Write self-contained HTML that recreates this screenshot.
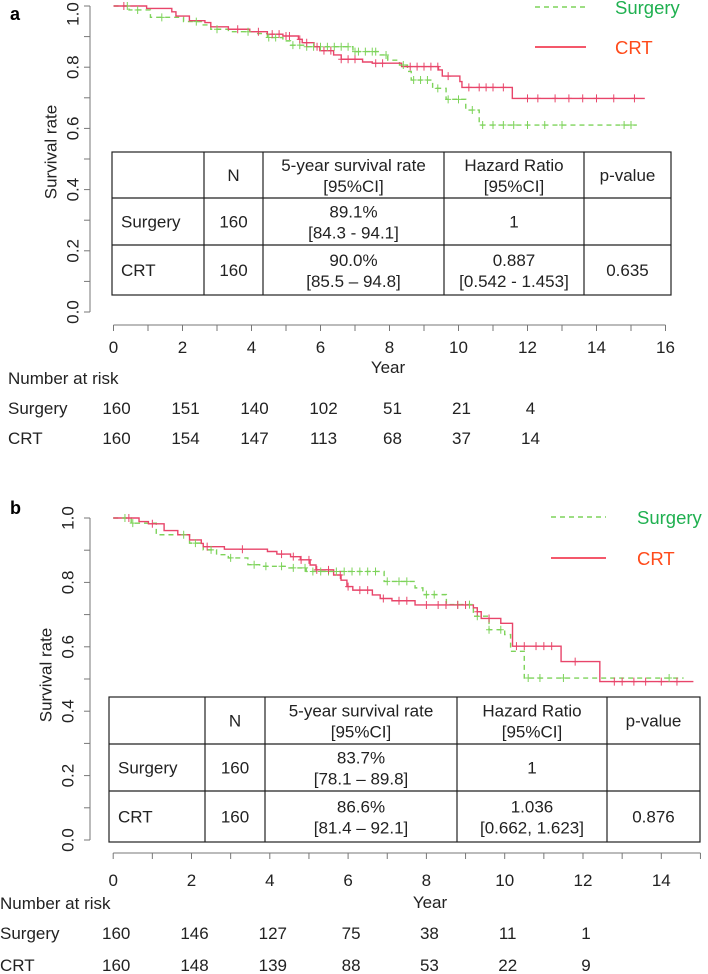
<!DOCTYPE html>
<html><head><meta charset="utf-8">
<style>
html,body{margin:0;padding:0;background:#fff;}
svg{display:block;font-family:"Liberation Sans",Arial,sans-serif;}
</style></head>
<body>
<svg id="fig" width="708" height="974" viewBox="0 0 708 974"></svg>
<script>
// ---------- Panel a data ----------
const aCrtTimes = [0,0.96,1.69,1.81,2.20,2.65,2.82,3.33,3.95,4.46,4.91,5.36,5.47,5.81,5.98,6.38,6.60,7.22,7.50,8.35,9.42,9.53,10.04,10.10,11.56];
const aCrtSurv  = [1,0.992,0.981,0.967,0.952,0.946,0.932,0.924,0.916,0.908,0.902,0.891,0.880,0.867,0.854,0.840,0.826,0.817,0.813,0.802,0.791,0.771,0.753,0.734,0.698];
const aCrtEnd = 15.4;
const aSurTimes = [0,0.45,1.07,2.03,2.60,2.82,3.33,4.12,4.46,4.91,5.13,5.58,6.94,7.73,7.95,8.29,8.52,8.63,9.25,9.64,10.21,10.60];
const aSurSurv  = [1,0.987,0.963,0.949,0.938,0.924,0.916,0.910,0.897,0.886,0.872,0.867,0.851,0.840,0.823,0.807,0.786,0.758,0.731,0.695,0.660,0.611];
const aSurEnd = 15.17;
const aCrtCensor = [0.3,3.6,4.2,4.6,4.8,5.0,5.1,5.4,5.6,5.9,6.1,6.3,6.6,6.8,7.0,7.6,7.8,8.6,8.8,9.0,9.2,9.4,9.7,10.3,10.6,10.8,11.0,11.3,12.0,12.3,12.8,13.2,13.6,14.0,14.5,15.1];
const aSurCensor = [0.4,0.7,1.4,2.4,3.0,3.9,4.5,4.7,5.2,5.4,5.6,5.8,6.0,6.2,6.4,6.6,6.8,7.0,7.1,7.3,7.5,7.6,7.9,8.4,8.7,8.9,9.1,9.4,9.7,10.0,10.4,10.7,11.0,11.3,11.6,12.0,12.5,13.0,14.8,15.0];
const aXTicks = [0,2,4,6,8,10,12,14,16];
const aRiskSur = [160,151,140,102,51,21,4];
const aRiskCrt = [160,154,147,113,68,37,14];
// ---------- Panel b data ----------
const bCrtTimes = [0,0.66,0.90,1.30,1.65,1.95,2.25,2.30,2.84,3.94,4.18,4.53,4.78,5.03,5.18,5.63,5.82,5.97,6.12,6.62,6.82,7.12,7.71,9.20,9.30,9.40,9.90,10.20,11.44,12.43];
const bCrtSurv  = [1,0.989,0.982,0.961,0.948,0.932,0.921,0.911,0.903,0.896,0.888,0.880,0.870,0.854,0.839,0.823,0.807,0.787,0.776,0.761,0.750,0.743,0.730,0.721,0.709,0.688,0.673,0.602,0.554,0.492];
const bCrtEnd = 14.82;
const bSurTimes = [0,0.46,1.10,1.95,2.30,2.64,2.94,3.44,3.74,4.43,4.93,6.92,7.71,7.91,8.51,9.20,9.60,10.00,10.15,10.50];
const bSurSurv  = [1,0.984,0.948,0.922,0.901,0.886,0.876,0.855,0.850,0.845,0.834,0.803,0.783,0.762,0.731,0.695,0.653,0.638,0.586,0.503];
const bSurEnd = 14.57;
const bCrtCensor = [0.4,1.0,2.4,3.3,4.3,4.6,4.8,5.0,5.2,5.5,5.8,6.0,6.3,6.5,6.9,7.3,7.5,8.0,8.3,8.5,8.8,9.0,9.3,9.6,10.3,10.5,10.8,11.0,11.2,11.8,12.8,13.0,13.3,13.6,14.0,14.4];
const bSurCensor = [0.3,0.5,1.8,2.1,2.5,3.0,3.6,3.9,4.3,4.6,4.9,5.1,5.3,5.5,5.7,5.9,6.1,6.3,6.5,6.7,7.0,7.3,7.5,8.0,8.2,8.8,9.1,9.3,9.6,9.9,10.6,10.9,11.5,14.2];
const bXTicks = [0,2,4,6,8,10,12,14];
const bRiskSur = [160,146,127,75,38,11,1];
const bRiskCrt = [160,148,139,88,53,22,9];
const yTicks = [0,0.2,0.4,0.6,0.8,1.0];

const NS = "http://www.w3.org/2000/svg";
const svg = document.getElementById('fig');
function el(tag, attrs, parent, text) {
  const e = document.createElementNS(NS, tag);
  for (const k in attrs) e.setAttribute(k, attrs[k]);
  if (text !== undefined) e.textContent = text;
  (parent || svg).appendChild(e);
  return e;
}
const RED = "#e8456a", GREEN = "#7dd35a";

function panel(P) {
  const g = el('g', {});
  
  
  const X = t => P.x0 + t * P.xs;
  const Y = s => P.y1 + (1 - s) * P.ys;
  const lt = el('text', {x: 10, y: P.letterY, 'font-size': 18, 'font-weight': 'bold'}, g, P.letter);
  
  
  const ya = el('g', {stroke: '#777', 'stroke-width': 1}, g);
  
  
  el('line', {x1: 90, y1: Y(1), x2: 90, y2: Y(0)}, ya);
  for (let i = 0; i <= 10; i++) el('line', {x1: 84, y1: Y(i / 10), x2: 90, y2: Y(i / 10)}, ya);
  yTicks.forEach(v => {
    const yy = Math.max(Y(v), 14);
    const t = el('text', {x: P.ylabX, y: yy, 'font-size': 17, fill: '#222', 'text-anchor': 'middle', transform: `rotate(-90 ${P.ylabX} ${yy})`, 'dominant-baseline': 'central'}, g, v.toFixed(1));
    
    
  });
  const yt = el('text', {x: P.ytitleX, y: P.ytitleY, 'font-size': 17, fill: '#222', 'text-anchor': 'middle', transform: `rotate(-90 ${P.ytitleX} ${P.ytitleY})`, 'dominant-baseline': 'central'}, g, 'Survival rate');
  
  
  const xa = el('g', {stroke: '#777', 'stroke-width': 1}, g);
  
  
  el('line', {x1: X(0), y1: P.xAxisY, x2: X(P.xMax), y2: P.xAxisY}, xa);
  for (let i = 0; i <= P.xMax; i++) el('line', {x1: X(i), y1: P.xAxisY, x2: X(i), y2: P.xAxisY + 6}, xa);
  P.xTicks.forEach(v => {
    const t = el('text', {x: X(v), y: P.xlabY, 'font-size': 17, fill: '#222', 'text-anchor': 'middle'}, g, String(v));
    
    
  });
  const xt = el('text', {x: P.yearX, y: P.yearY, 'font-size': 17, fill: '#222', 'text-anchor': 'middle'}, g, 'Year');
  
  
  function stepPath(ts, ss, end) {
    let d = `M${X(ts[0])},${Y(ss[0])}`;
    for (let i = 1; i < ts.length; i++) d += ` H${X(ts[i])} V${Y(ss[i])}`;
    d += ` H${X(end)}`;
    return d;
  }
  function survAt(ts, ss, t) { let s = ss[0]; for (let i = 0; i < ts.length; i++) if (ts[i] <= t) s = ss[i]; return s; }
  const sur = el('path', {d: stepPath(P.surT, P.surS, P.surEnd), fill: 'none', stroke: GREEN, 'stroke-width': 1.4, 'stroke-dasharray': '5,4'}, g);
  
  
  const crt = el('path', {d: stepPath(P.crtT, P.crtS, P.crtEnd), fill: 'none', stroke: RED, 'stroke-width': 1.4}, g);
  
  
  P.surC.forEach(t => {
    const y = Y(survAt(P.surT, P.surS, t));
    const m = el('path', {d: `M${X(t)},${y - 4} V${y + 4} M${X(t) - 3},${y} H${X(t) + 3}`, stroke: GREEN, 'stroke-width': 1}, g);
    
    
  });
  P.crtC.forEach(t => {
    const y = Y(survAt(P.crtT, P.crtS, t));
    const m = el('path', {d: `M${X(t)},${y - 4} V${y + 4} M${X(t) - 3},${y} H${X(t) + 3}`, stroke: RED, 'stroke-width': 1}, g);
    
    
  });
  const lg = el('g', {}, g);
  
  
  el('line', {x1: P.legX1, y1: P.legY1, x2: P.legX2, y2: P.legY1, stroke: GREEN, 'stroke-width': 1.5, 'stroke-dasharray': '5,4'}, lg);
  el('text', {x: P.legTX, y: P.legY1 + 7, 'font-size': 18.5, fill: '#1fb050'}, lg, 'Surgery');
  el('line', {x1: P.legX1, y1: P.legY2, x2: P.legX2, y2: P.legY2, stroke: '#f0203a', 'stroke-width': 1.5}, lg);
  el('text', {x: P.legTX, y: P.legY2 + 7, 'font-size': 18.5, fill: '#ff4a1a'}, lg, 'CRT');
  const tb = el('g', {}, g);
  
  
  const C = P.cols, R = P.rows;
  el('rect', {x: C[0], y: R[0], width: C[5] - C[0], height: R[3] - R[0], fill: '#fff', stroke: '#222', 'stroke-width': 1.2}, tb);
  for (let i = 1; i < 5; i++) el('line', {x1: C[i], y1: R[0], x2: C[i], y2: R[3], stroke: '#222', 'stroke-width': 1.2}, tb);
  for (let j = 1; j < 3; j++) el('line', {x1: C[0], y1: R[j], x2: C[5], y2: R[j], stroke: '#222', 'stroke-width': 1.2}, tb);
  const cells = P.cells;
  for (let r = 0; r < 3; r++) for (let c = 0; c < 5; c++) {
    const lines = cells[r][c]; if (!lines) continue;
    const cy = (R[r] + R[r + 1]) / 2;
    const cx = c === 0 ? C[0] + 9 : (C[c] + C[c + 1]) / 2;
    const anchor = c === 0 ? 'start' : 'middle';
    lines.forEach((ln, k) => {
      const off = lines.length === 1 ? 0 : (k === 0 ? -10 : 11);
      el('text', {x: cx, y: cy + off + 6, 'font-size': 17, fill: '#222', 'text-anchor': anchor}, tb, ln);
    });
  }
  const rk = el('g', {'font-size': 17, fill: '#222'}, g);
  
  
  el('text', {x: P.riskLabX, y: P.riskTitleY}, rk, 'Number at risk');
  el('text', {x: P.riskLabX, y: P.riskSurY}, rk, 'Surgery');
  el('text', {x: P.riskLabX, y: P.riskCrtY}, rk, 'CRT');
  P.riskSur.forEach((v, i) => el('text', {x: X(i * 2) + 3, y: P.riskSurY, 'text-anchor': 'middle'}, rk, String(v)));
  P.riskCrt.forEach((v, i) => el('text', {x: X(i * 2) + 3, y: P.riskCrtY, 'text-anchor': 'middle'}, rk, String(v)));
}

panel({
  name: 'panel-a', letter: 'a', letterY: 20,
  x0: 113.5, xs: 34.5, y1: 6, ys: 306, xMax: 16, xTicks: aXTicks,
  xAxisY: 325, xlabY: 353, yearX: 388, yearY: 373,
  ylabX: 73, ytitleX: 51, ytitleY: 152,
  crtT: aCrtTimes, crtS: aCrtSurv, crtEnd: aCrtEnd, surT: aSurTimes, surS: aSurSurv, surEnd: aSurEnd,
  crtC: aCrtCensor, surC: aSurCensor,
  legX1: 535, legX2: 586, legTX: 615, legY1: 7, legY2: 47,
  cols: [112, 204, 263, 444, 584, 671], rows: [152, 198, 245, 295],
  cells: [[null, ['N'], ['5-year survival rate', '[95%CI]'], ['Hazard Ratio', '[95%CI]'], ['p-value']],
          [['Surgery'], ['160'], ['89.1%', '[84.3 - 94.1]'], ['1'], null],
          [['CRT'], ['160'], ['90.0%', '[85.5 \u2013 94.8]'], ['0.887', '[0.542 - 1.453]'], ['0.635']]],
  riskLabX: 8, riskTitleY: 384, riskSurY: 414, riskCrtY: 444,
  riskSur: aRiskSur, riskCrt: aRiskCrt
});
panel({
  name: 'panel-b', letter: 'b', letterY: 514,
  x0: 113.2, xs: 39.15, y1: 518, ys: 322, xMax: 15, xTicks: bXTicks,
  xAxisY: 853, xlabY: 886, yearX: 430, yearY: 908,
  ylabX: 68, ytitleX: 46, ytitleY: 675,
  crtT: bCrtTimes, crtS: bCrtSurv, crtEnd: bCrtEnd, surT: bSurTimes, surS: bSurSurv, surEnd: bSurEnd,
  crtC: bCrtCensor, surC: bSurCensor,
  legX1: 551, legX2: 606, legTX: 637, legY1: 517, legY2: 558,
  cols: [109, 205, 265, 457, 607, 700], rows: [697, 744, 791, 842],
  cells: [[null, ['N'], ['5-year survival rate', '[95%CI]'], ['Hazard Ratio', '[95%CI]'], ['p-value']],
          [['Surgery'], ['160'], ['83.7%', '[78.1 \u2013 89.8]'], ['1'], null],
          [['CRT'], ['160'], ['86.6%', '[81.4 \u2013 92.1]'], ['1.036', '[0.662, 1.623]'], ['0.876']]],
  riskLabX: 0, riskTitleY: 909, riskSurY: 939, riskCrtY: 971,
  riskSur: bRiskSur, riskCrt: bRiskCrt
});
</script>
</body></html>
